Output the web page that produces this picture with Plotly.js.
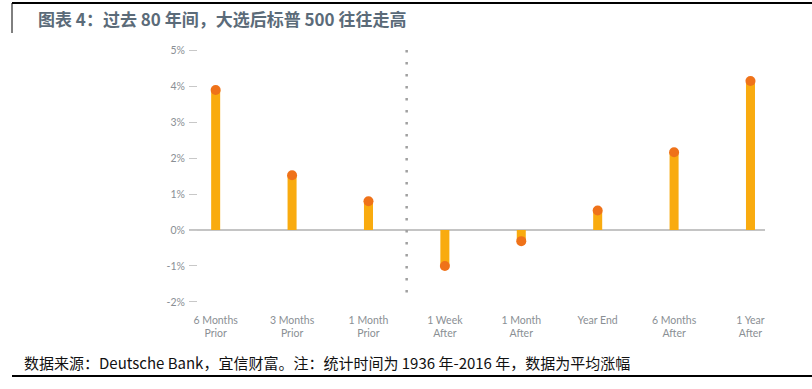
<!DOCTYPE html>
<html>
<head>
<meta charset="utf-8">
<script src="https://cdn.plot.ly/plotly-3.0.1.min.js"></script>
<style>
  html, body { margin: 0; padding: 0; background: #fff; }
  #chart { width: 812px; height: 389px; }
</style>
</head>
<body>
<div id="chart"></div>
<script>
// ---- data ----
var categories = ["6 Months<br>Prior", "3 Months<br>Prior", "1 Month<br>Prior", "1 Week<br>After",
                  "1 Month<br>After", "Year End", "6 Months<br>After", "1 Year<br>After"];
var avgReturn = [3.89, 1.52, 0.80, -1.00, -0.31, 0.54, 2.16, 4.14];
var yTickVals = [-2, -1, 0, 1, 2, 3, 4, 5];
var yTickText = ["-2%", "-1%", "0%", "1%", "2%", "3%", "4%", "5%"];
var titleText = "图表 4：过去 80 年间，大选后标普 500 往往走高";
var sourceText = "数据来源：Deutsche Bank，宜信财富。注：统计时间为 1936 年-2016 年，数据为平均涨幅";

// ---- layout geometry ----
var W = 812, H = 389;
var M = {l: 189, r: 47, t: 40, b: 77};
var PW = W - M.l - M.r, PH = H - M.t - M.b;
function px(x) { return (x - M.l) / PW; }
function py(y) { return (H - M.b - y) / PH; }

var xIdx = categories.map(function (_, i) { return i; });

var bars = {
  type: 'bar', x: xIdx, y: avgReturn, width: 0.118,
  marker: {color: '#F9AB0F', line: {width: 0}},
  hoverinfo: 'skip'
};
var dots = {
  type: 'scatter', mode: 'markers', x: xIdx, y: avgReturn,
  marker: {color: '#EF7219', size: 10, line: {width: 0}},
  hoverinfo: 'skip'
};

var layout = {
  width: W, height: H,
  margin: M,
  paper_bgcolor: '#fff', plot_bgcolor: '#fff',
  showlegend: false,
  font: {family: 'Lato, "Noto Sans", sans-serif', color: '#8a8f94', size: 10},
  title: {
    text: titleText,
    x: 38 / W, xanchor: 'left', xref: 'container',
    y: 1 - 20 / H, yanchor: 'middle', yref: 'container',
    font: {family: '"Noto Sans CJK SC", sans-serif', size: 17, color: '#5b6b79', weight: 'bold'}
  },
  xaxis: {
    range: [-0.349, 7.19],
    tickmode: 'array', tickvals: xIdx, ticktext: categories,
    showgrid: false, zeroline: false, showline: false, ticks: '',
    tickfont: {size: 10.5, color: '#8a8f94'},
    fixedrange: true
  },
  yaxis: {
    range: [-2.278, 5.278],
    tickmode: 'array', tickvals: yTickVals, ticktext: yTickText,
    showgrid: false, showline: false,
    zeroline: true, zerolinecolor: '#c4c4c4', zerolinewidth: 1.5,
    ticks: 'inside', ticklen: 8, tickcolor: '#c8c8c8', tickwidth: 1,
    ticklabelstandoff: 3,
    tickfont: {size: 10.5, color: '#8a8f94'},
    fixedrange: true
  },
  shapes: [
    {type: 'line', xref: 'x', yref: 'y', x0: 2.5, x1: 2.5, y0: 5, y1: -2,
     line: {color: '#a0a0a0', width: 2.5, dash: '2.5px,9.5px'}},
    {type: 'line', xref: 'paper', yref: 'paper', x0: px(12), x1: px(812), y0: py(3), y1: py(3),
     line: {color: '#000', width: 2}},
    {type: 'line', xref: 'paper', yref: 'paper', x0: px(12), x1: px(12), y0: py(3), y1: py(33),
     line: {color: '#000', width: 1}},
    {type: 'line', xref: 'paper', yref: 'paper', x0: px(12), x1: px(812), y0: py(376), y1: py(376),
     line: {color: '#000', width: 2}}
  ],
  annotations: [
    {text: sourceText, xref: 'paper', yref: 'paper', x: px(22), y: py(362),
     xanchor: 'left', yanchor: 'middle', showarrow: false,
     font: {family: '"Noto Sans CJK SC", sans-serif', size: 15, color: '#111'}}
  ]
};

Plotly.newPlot('chart', [bars, dots], layout, {displayModeBar: false, staticPlot: true});
</script>
</body>
</html>
